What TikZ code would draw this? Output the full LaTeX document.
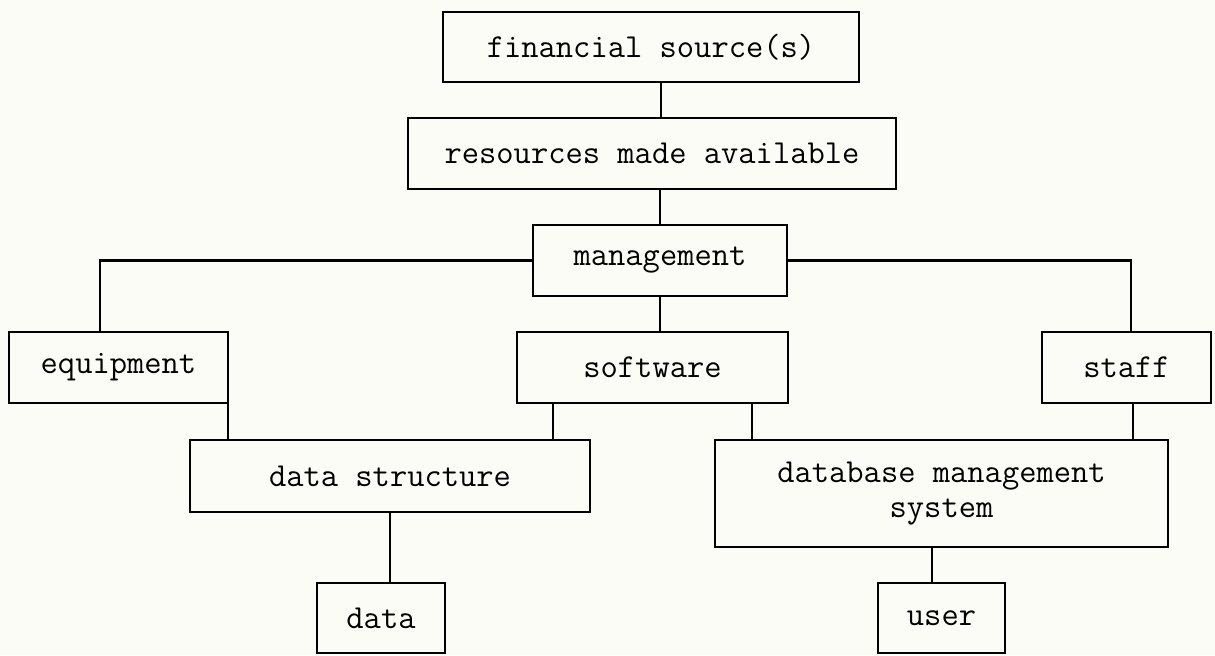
\documentclass[tikz,border=0pt]{standalone}
\usepackage{fontspec}
\definecolor{paper}{RGB}{252,252,247}
\begin{document}
\begin{tikzpicture}[
			every node/.style={font=\ttfamily\fontsize{19.1}{20.4}\selectfont},
			box/.style={draw, line width=1.2pt, inner sep=0pt, minimum height=1.42cm, align=center},
			link/.style={line width=1.2pt}
			]
			\fill[paper] (0,0) rectangle (24.3,13.1);
			\useasboundingbox (0,0) rectangle (24.3,13.1);
			
			% Top chain
			\node (fin) [box, minimum width=8.32cm, minimum height=1.40cm] at (13.02,12.16) {financial source(s)};
			\node (res) [box, minimum width=9.76cm] at (13.04,10.03) {resources made available};
			\node (mgmt) [box, minimum width=5.08cm] at (13.20,7.89) {management};
			\draw[link] ([xshift=0.2cm]fin.south) -- ([xshift=0.2cm]fin.south |- res.north);
			\draw[link] (res.south -| mgmt.north) -- (mgmt.north);
			
			% Middle row
			\node (equip) [box, minimum width=4.38cm] at (2.37,5.75) {equipment};
			\node (soft) [box, minimum width=5.42cm] at (13.05,5.75) {software};
			\node (staff) [box, minimum width=3.38cm] at (22.53,5.75) {staff};
			\draw[link] (mgmt.west) -| ([xshift=-0.37cm]equip.north);
			\draw[link] (mgmt.east) -| ([xshift=0.09cm]staff.north);
			\draw[link] (mgmt.south) -- (mgmt.south |- soft.north);
			
			% Lower row
			\node (ds) [box, minimum width=8.00cm, minimum height=1.44cm] at (7.80,3.58) {data structure};
			\node (dbms) [box, minimum width=9.06cm, minimum height=2.14cm] at (18.83,3.23) {database management\\system};
			\draw[link] ([xshift=-0.03cm]equip.south east) -- ([xshift=-0.03cm]equip.south east |- ds.north);
			\draw[link] ([xshift=-1.99cm]soft.south) -- ([xshift=-1.99cm]soft.south |- ds.north);
			\draw[link] ([xshift=1.99cm]soft.south) -- ([xshift=1.99cm]soft.south |- dbms.north);
			\draw[link] ([xshift=0.13cm]staff.south) -- ([xshift=0.13cm]staff.south |- dbms.north);
			
			% Bottom row
			\node (data) [box, minimum width=2.56cm, minimum height=1.40cm] at (7.62,0.74) {data};
			\node (user) [box, minimum width=2.54cm, minimum height=1.40cm] at (18.83,0.74) {user};
			\draw[link] (ds.south) -- (ds.south |- data.north);
			\draw[link] ([xshift=-0.19cm]dbms.south) -- ([xshift=-0.19cm]user.north);
		\end{tikzpicture}
\end{document}
